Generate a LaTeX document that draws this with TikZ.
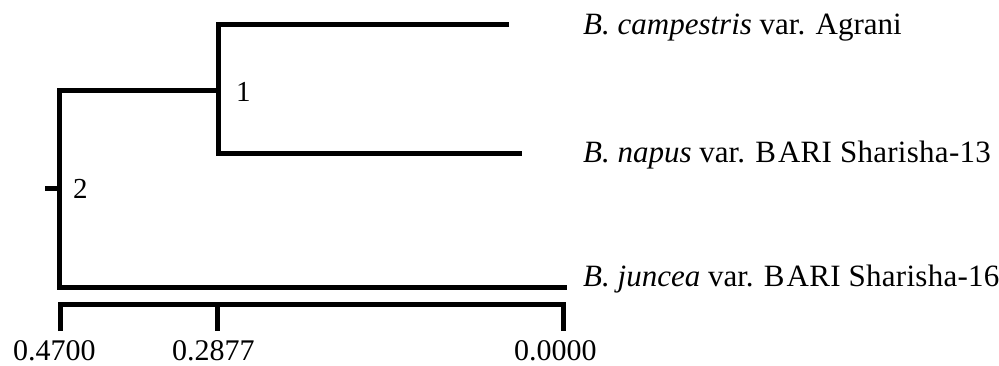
\documentclass[tikz,border=0pt]{standalone}
\usepackage{fontspec}
\setmainfont{Liberation Serif}
\newfontfamily\widefont[LetterSpace=0.9]{Liberation Serif}
\begin{document}
\begin{tikzpicture}[x=1pt, y=-1pt,
  branch/.style={line width=5pt, line cap=butt, line join=miter},
  taxon/.style={anchor=base west, inner sep=0pt, font=\fontsize{31}{37}\selectfont},
  nodenum/.style={anchor=base west, inner sep=0pt, font=\fontsize{29}{34}\selectfont},
  scalelbl/.style={anchor=base west, inner sep=0pt, font=\fontsize{30}{36}\selectfont}]
\useasboundingbox (0,0) rectangle (999,365);

% internal nodes and branch ends
\coordinate (stub) at (45,188);
\coordinate (root) at (59,188);
\coordinate (rootTop) at (59,90);
\coordinate (rootBot) at (59,287);
\coordinate (n1) at (218,90);
\coordinate (n1Top) at (218,24);
\coordinate (n1Bot) at (218,153);
\coordinate (endA) at (509,24);
\coordinate (endB) at (522,153);
\coordinate (endC) at (567,287);

% taxon labels
\node[taxon] (tA) at (583,34) {\textit{B. campestris} var. Agrani};
\node[taxon] (tB) at (583,162) {\textit{B. napus} var. {\widefont B\kern2pt ARI Sharisha-13}};
\node[taxon] (tC) at (583,286) {\textit{B. juncea} var. {\widefont B\kern2pt ARI Sharisha-16}};

% cluster numbers
\node[nodenum] (c1) at (236,101) {1};
\node[nodenum] (c2) at (73,198) {2};

% tree
\draw[branch] (stub) -- (root);
\draw[branch] (n1) -- (rootTop) -- (rootBot) -- (endC);
\draw[branch] (endA) -- (n1Top) -- (n1Bot) -- (endB);

% distance scale
\coordinate (s0) at (60,331);
\coordinate (s0t) at (60,304);
\coordinate (s1) at (217,331);
\coordinate (s1t) at (217,304);
\coordinate (s2) at (563,331);
\coordinate (s2t) at (563,304);
\draw[branch] (s0) -- (s0t) -- (s2t) -- (s2);
\draw[branch] (s1t) -- (s1);
\node[scalelbl] (l0) at (13,360) {0.4700};
\node[scalelbl] (l1) at (172,360) {0.2877};
\node[scalelbl] (l2) at (514,360) {0.0000};
\end{tikzpicture}
\end{document}
